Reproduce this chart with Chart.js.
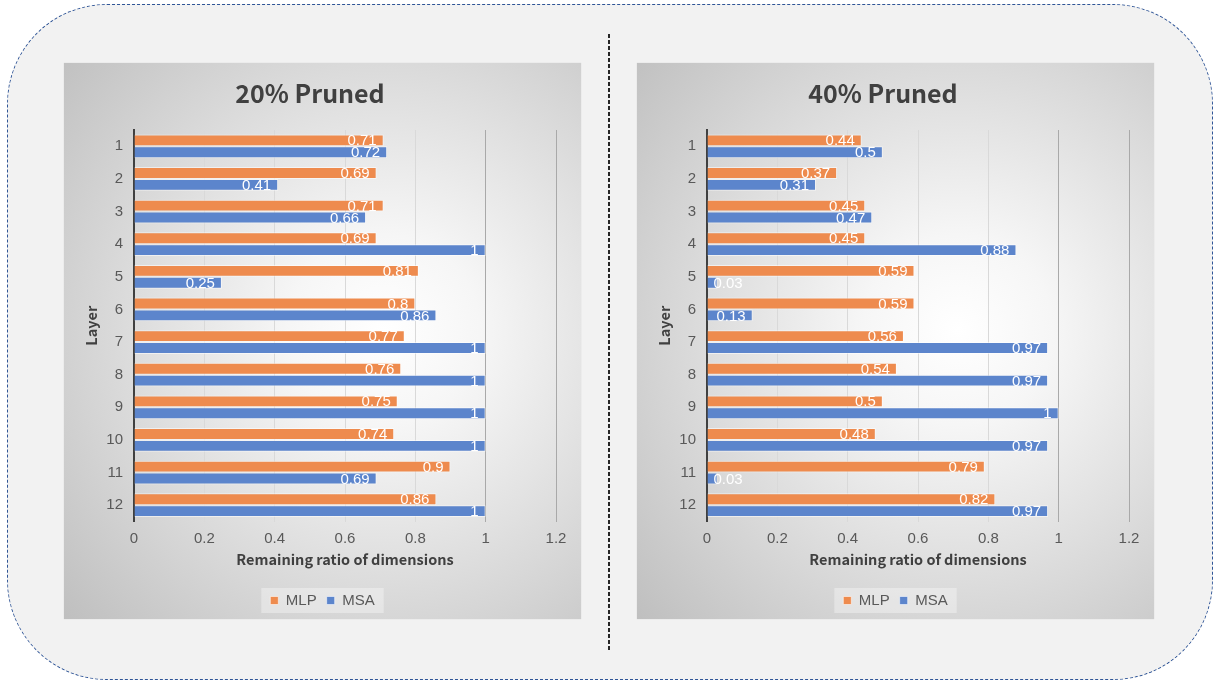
<!DOCTYPE html>
<html><head><meta charset="utf-8">
<script src="https://cdn.jsdelivr.net/npm/chart.js@4/dist/chart.umd.min.js"></script>
<style>
html,body{margin:0;padding:0;background:#fff;width:1213px;height:681px;overflow:hidden;}
#frame{position:absolute;left:7px;top:4px;width:1206px;height:676px;box-sizing:border-box;border:1.5px dashed #2f5597;border-radius:100px;background:#f2f2f2;}
#divider{position:absolute;left:608px;top:34px;width:2px;height:618px;background:repeating-linear-gradient(to bottom,#262626 0 4px,transparent 4px 6px);}
.panel{position:absolute;top:63px;width:517px;height:556px;box-shadow:0 0 1px rgba(0,0,0,0.15);
  background:radial-gradient(circle farthest-corner at 62% 48%, #ffffff 0%, #f6f6f6 22%, #bfbfbf 100%);}
.panel canvas{display:block;}
</style></head>
<body>
<div id="frame"></div>
<div id="divider"></div>
<div class="panel" style="left:64px"><canvas id="c1" width="517" height="556"></canvas></div>
<div class="panel" style="left:637px"><canvas id="c2" width="517" height="556"></canvas></div>
<script>
const layers = ['1','2','3','4','5','6','7','8','9','10','11','12'];
const xTickLabels = ['0','0.2','0.4','0.6','0.8','1','1.2'];
const seriesNames = ['MLP','MSA'];
const chartTitles = ['20% Pruned','40% Pruned'];
const mlp20 = [0.71,0.69,0.71,0.69,0.81,0.8,0.77,0.76,0.75,0.74,0.9,0.86];
const msa20 = [0.72,0.41,0.66,1,0.25,0.86,1,1,1,1,0.69,1];
const mlp40 = [0.44,0.37,0.45,0.45,0.59,0.59,0.56,0.54,0.5,0.48,0.79,0.82];
const msa40 = [0.5,0.31,0.47,0.88,0.03,0.13,0.97,0.97,1,0.97,0.03,0.97];

const ORANGE = '#ee8b4e';
const BLUE = '#5c85cc';
const FONT = '"Liberation Sans", Arial, sans-serif';
const BOLD_FONT = '"Noto Sans CJK SC", "Open Sans", sans-serif';

const valueLabels = {
  id: 'valueLabels',
  afterDatasetsDraw(chart) {
    const ctx = chart.ctx;
    ctx.save();
    ctx.font = '15px ' + FONT;
    ctx.fillStyle = '#ffffff';
    ctx.textBaseline = 'middle';
    ctx.textAlign = 'right';
    chart.data.datasets.forEach((ds, di) => {
      const meta = chart.getDatasetMeta(di);
      meta.data.forEach((bar, i) => {
        const txt = String(ds.data[i]);
        const w = ctx.measureText(txt).width;
        const right = Math.max(bar.x - 7, bar.base + 6 + w);
        ctx.fillText(txt, right, bar.y + 1);
      });
    });
    ctx.restore();
  }
};

const legendCentre = {
  id: 'legendCentre',
  afterLayout(chart) {
    const lg = chart.legend;
    if (!lg) return;
    lg.left = 0;
    lg.right = chart.width;
  }
};

const legendBg = {
  id: 'legendBg',
  beforeDraw(chart) {
    const lg = chart.legend;
    if (!lg || !lg.legendHitBoxes || !lg.legendHitBoxes.length) return;
    let l = Infinity, r = -Infinity, t = Infinity, b = -Infinity;
    lg.legendHitBoxes.forEach(h => {
      l = Math.min(l, h.left); r = Math.max(r, h.left + h.width);
      t = Math.min(t, h.top); b = Math.max(b, h.top + h.height);
    });
    const ctx = chart.ctx;
    ctx.save();
    ctx.fillStyle = 'rgba(255,255,255,0.35)';
    ctx.fillRect(l - 9, t - 5, r - l + 18, b - t + 10);
    ctx.restore();
  }
};

function makeChart(id, title, mlp, msa) {
  new Chart(document.getElementById(id), {
    type: 'bar',
    data: {
      labels: layers,
      datasets: [
        {label: seriesNames[0], data: mlp, backgroundColor: ORANGE, borderColor: 'rgba(255,255,255,0.55)', borderWidth: 1, categoryPercentage: 0.73, barPercentage: 1},
        {label: seriesNames[1], data: msa, backgroundColor: BLUE, borderColor: 'rgba(255,255,255,0.55)', borderWidth: 1, categoryPercentage: 0.73, barPercentage: 1}
      ]
    },
    options: {
      indexAxis: 'y',
      responsive: false,
      animation: false,
      devicePixelRatio: 1,
      layout: {padding: {left: 0, right: 25, top: 0, bottom: 1}},
      plugins: {
        title: {display: true, text: title, color: '#404040', font: {family: BOLD_FONT, size: 25, weight: 'bold'}, padding: {top: 15, bottom: 22}},
        legend: {position: 'bottom', labels: {boxWidth: 8, boxHeight: 8, padding: 10, color: '#595959', font: {family: FONT, size: 15}}},
        tooltip: {enabled: false}
      },
      scales: {
        x: {
          min: 0, max: 1.2,
          ticks: {stepSize: 0.2, padding: 8, color: '#595959', font: {family: FONT, size: 15}, callback: (v, i) => xTickLabels[i]},
          grid: {drawTicks: false, color: (c) => (c.tick && c.tick.value > 0.99) ? '#a9a9a9' : '#d9d9d9'},
          border: {display: false},
          title: {display: true, text: 'Remaining ratio of dimensions', color: '#404040', font: {family: BOLD_FONT, size: 14.5, weight: 'bold'}, padding: {top: 4, bottom: 15}},
          afterFit: (s) => { s.height = 61.5; }
        },
        y: {
          ticks: {padding: 3, color: '#595959', font: {family: FONT, size: 15}},
          grid: {display: false},
          border: {display: true, color: '#404040', width: 2},
          title: {display: true, text: 'Layer', color: '#404040', font: {family: BOLD_FONT, size: 14.5, weight: 'bold'}, padding: {top: 19, bottom: 0}},
          afterFit: (s) => { s.width = 70; }
        }
      }
    },
    plugins: [legendCentre, legendBg, valueLabels]
  });
}

makeChart('c1', chartTitles[0], mlp20, msa20);
makeChart('c2', chartTitles[1], mlp40, msa40);
</script>
</body></html>
